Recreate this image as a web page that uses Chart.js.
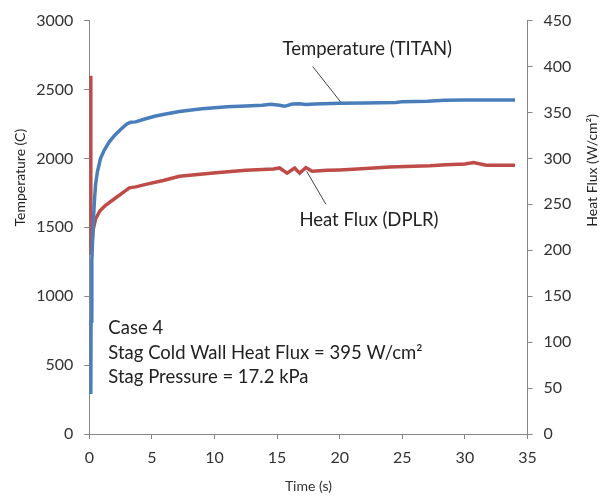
<!DOCTYPE html>
<html lang="en-US">
<head>
  <meta charset="utf-8">
  <title>Temperature and heat flux | Chart.js</title>
  <script src="https://cdn.jsdelivr.net/npm/chart.js@4/dist/chart.umd.min.js"></script>
  <style>
    body { margin: 0; background: #fff; }
    canvas { display: block; }
  </style>
</head>
<body>
  <canvas id="chart-0" width="612" height="500"></canvas>

  <script>

    // Temperature (TITAN), left axis
    let tempTime = [0.12, 0.14, 0.2, 0.3, 0.4, 0.5, 0.65, 0.9, 1.2, 1.6, 2.0, 2.5, 3.0, 3.3, 3.7, 4.5, 5.3, 6.0, 7.2, 8.0, 9.0, 10, 11, 12.5, 13.8, 14.5, 15.2, 15.6, 16.2, 16.8, 17.3, 18, 20, 22, 24.5, 25, 27, 28.4, 30, 32, 34];
    let tempValues = [290, 820, 1250, 1500, 1680, 1810, 1905, 2000, 2060, 2120, 2165, 2210, 2250, 2262, 2265, 2288, 2308, 2320, 2340, 2350, 2360, 2368, 2375, 2380, 2386, 2392, 2386, 2378, 2394, 2396, 2392, 2394, 2400, 2402, 2406, 2412, 2414, 2422, 2423, 2424, 2424];

    // Heat Flux (DPLR), right axis
    let fluxTime = [0.1, 0.12, 0.2, 0.32, 0.5, 0.85, 1.3, 1.9, 2.6, 3.2, 3.7, 4.6, 5.9, 7.2, 9.9, 12.5, 14.7, 15.2, 15.8, 16.4, 16.8, 17.3, 17.8, 19, 20, 21.4, 24, 27.2, 28.5, 30, 30.7, 31.7, 34];
    let fluxValues = [390, 195, 205, 223, 234, 243, 249, 255, 262, 268, 269, 272, 276, 280.5, 284, 287, 288.5, 289.6, 284, 289.6, 284, 290, 286, 287, 287.5, 288.5, 290.7, 292, 293, 294, 295.5, 292.5, 292.5];

    let timeTicks = [0, 5, 10, 15, 20, 25, 30, 35];
    let tempTicks = [0, 500, 1000, 1500, 2000, 2500, 3000];
    let fluxTicks = [0, 50, 100, 150, 200, 250, 300, 350, 400, 450];

    let caseLines = ['Case 4', 'Stag Cold Wall Heat Flux = 395 W/cm\u00b2', 'Stag Pressure = 17.2 kPa'];

    Chart.defaults.font.family = 'Lato, "Open Sans", sans-serif';
    Chart.defaults.color = '#333';

    let axisGray = '#868686';

    function toPoints(xs, ys) {
      return xs.map((x, i) => ({x: x, y: ys[i]}));
    }

    let notes = {
      id: 'notes',
      afterDatasetsDraw(chart) {
        let ctx = chart.ctx;
        let x = chart.scales.x, yT = chart.scales.y, yQ = chart.scales.y1;
        ctx.save();

        // leader lines
        ctx.strokeStyle = '#404040';
        ctx.lineWidth = 1;
        ctx.beginPath();
        ctx.moveTo(x.getPixelForValue(17.84), yT.getPixelForValue(2667));
        ctx.lineTo(x.getPixelForValue(20.08), yT.getPixelForValue(2409));
        ctx.moveTo(x.getPixelForValue(17.36), yQ.getPixelForValue(286));
        ctx.lineTo(x.getPixelForValue(18.9), yQ.getPixelForValue(250));
        ctx.stroke();

        ctx.fillStyle = '#222';
        ctx.textBaseline = 'middle';
        ctx.font = '18.5px Lato';
        ctx.textAlign = 'center';
        ctx.fillText('Temperature (TITAN)', x.getPixelForValue(22.2), yT.getPixelForValue(2792));
        ctx.fillText('Heat Flux (DPLR)', x.getPixelForValue(22.34), yQ.getPixelForValue(232.5));

        ctx.textAlign = 'left';
        let cy = [768, 590, 411];
        caseLines.forEach((line, i) => {
          ctx.fillText(line, x.getPixelForValue(1.52), yT.getPixelForValue(cy[i]));
        });

        // axis titles, placed off-centre as in the original
        ctx.font = '14px Lato';
        ctx.textAlign = 'center';
        ctx.translate(20, yT.getPixelForValue(1860));
        ctx.rotate(-Math.PI / 2);
        ctx.fillText('Temperature (C)', 0, 0);
        ctx.restore();

        ctx.save();
        ctx.fillStyle = '#222';
        ctx.font = '14px Lato';
        ctx.textAlign = 'center';
        ctx.textBaseline = 'middle';
        ctx.translate(592, yQ.getPixelForValue(287));
        ctx.rotate(-Math.PI / 2);
        ctx.fillText('Heat Flux (W/cm\u00b2)', 0, 0);
        ctx.restore();
      }
    };

    function axisGrid() {
      return {
        display: true,
        drawOnChartArea: false,
        drawTicks: true,
        tickLength: 5,
        color: axisGray,
        lineWidth: 1
      };
    }

    function plainTicks(padding) {
      return {
        font: { size: 16 },
        padding: padding,
        maxRotation: 0,
        callback: (v) => String(v)
      };
    }

    let chart = new Chart('chart-0', {
      type: 'line',
      data: {
        datasets: [
          {
            label: 'Temperature (TITAN)',
            data: toPoints(tempTime, tempValues),
            borderColor: '#4a7ebb',
            borderWidth: 3.5,
            pointRadius: 0,
            yAxisID: 'y'
          },
          {
            label: 'Heat Flux (DPLR)',
            data: toPoints(fluxTime, fluxValues),
            borderColor: '#be4b48',
            borderWidth: 3.5,
            pointRadius: 0,
            yAxisID: 'y1'
          }
        ]
      },
      options: {
        responsive: false,
        animation: false,
        layout: { padding: { top: 16.5, left: 0, right: 0, bottom: 0 } },
        plugins: {
          legend: { display: false },
          tooltip: { enabled: false }
        },
        scales: {
          x: {
            type: 'linear',
            min: 0,
            max: 35,
            grid: axisGrid(),
            border: { display: true, color: axisGray },
            afterBuildTicks: (s) => { s.ticks = timeTicks.map(v => ({value: v})); },
            afterFit: (s) => { s.height = 66; },
            ticks: plainTicks(9),
            title: {
              display: true,
              text: 'Time (s)',
              font: { size: 14 },
              padding: { top: 0, bottom: 5 }
            }
          },
          y: {
            position: 'left',
            min: 0,
            max: 3000,
            grid: axisGrid(),
            border: { display: true, color: axisGray },
            afterBuildTicks: (s) => { s.ticks = tempTicks.map(v => ({value: v})); },
            afterFit: (s) => { s.width = 89.3; },
            ticks: plainTicks(11)
          },
          y1: {
            position: 'right',
            min: 0,
            max: 450,
            grid: axisGrid(),
            border: { display: true, color: axisGray },
            afterBuildTicks: (s) => { s.ticks = fluxTicks.map(v => ({value: v})); },
            afterFit: (s) => { s.width = 84.5; },
            ticks: plainTicks(11)
          }
        }
      },
      plugins: [notes]
    });

  </script>
</body>
</html>
